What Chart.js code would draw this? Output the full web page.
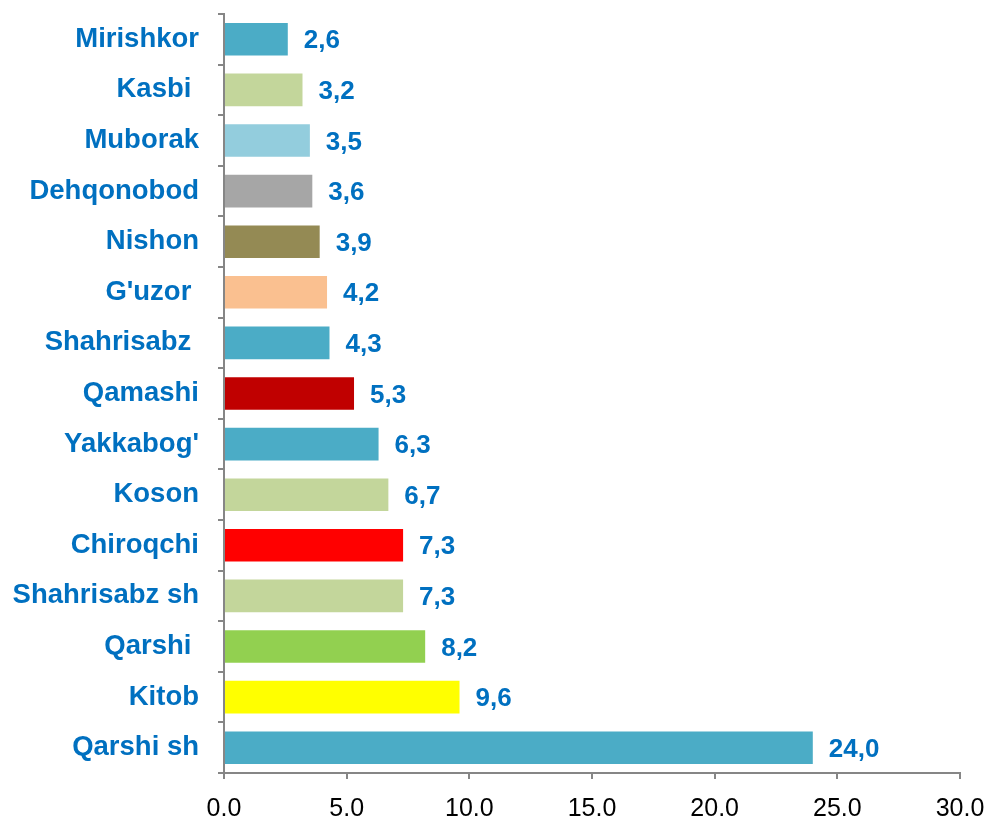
<!DOCTYPE html>
<html>
<head>
<meta charset="utf-8">
<script src="https://cdn.jsdelivr.net/npm/chart.js@4/dist/chart.umd.min.js"></script>
<style>
  body { margin: 0; background: #fff; }
  canvas { display: block; }
</style>
</head>
<body>
<canvas id="myChart" width="994" height="816"></canvas>
<script>
const categories = ['Mirishkor', 'Kasbi ', 'Muborak', 'Dehqonobod', 'Nishon', "G'uzor ", 'Shahrisabz ',
  'Qamashi', "Yakkabog'", 'Koson', 'Chiroqchi', 'Shahrisabz sh', 'Qarshi ', 'Kitob', 'Qarshi sh'];
const values = [2.6, 3.2, 3.5, 3.6, 3.9, 4.2, 4.3, 5.3, 6.3, 6.7, 7.3, 7.3, 8.2, 9.6, 24.0];
const barColors = ['#4BACC6', '#C3D69B', '#93CDDD', '#A6A6A6', '#948A54', '#FAC090', '#4BACC6',
  '#C00000', '#4BACC6', '#C3D69B', '#FF0000', '#C3D69B', '#92D050', '#FFFF00', '#4BACC6'];
const xTicks = [0, 5, 10, 15, 20, 25, 30];

// draws the value next to each bar, with a decimal comma
const valueLabels = {
  id: 'valueLabels',
  afterDatasetsDraw(chart) {
    const ctx = chart.ctx;
    const meta = chart.getDatasetMeta(0);
    ctx.save();
    ctx.font = 'bold 26px "Liberation Sans", Arial, sans-serif';
    ctx.fillStyle = '#0070C0';
    ctx.textAlign = 'left';
    ctx.textBaseline = 'middle';
    meta.data.forEach((bar, i) => {
      ctx.fillText(values[i].toFixed(1).replace('.', ','), bar.x + 16, bar.y + 2);
    });
    ctx.restore();
  }
};

const chart = new Chart(document.getElementById('myChart'), {
  type: 'bar',
  data: {
    labels: categories,
    datasets: [{
      data: values,
      backgroundColor: barColors,
      borderWidth: 0,
      categoryPercentage: 1,
      barPercentage: 0.645
    }]
  },
  options: {
    indexAxis: 'y',
    responsive: false,
    animation: false,
    layout: { padding: { top: 14, right: 34, left: 0, bottom: 0 } },
    plugins: { legend: { display: false }, tooltip: { enabled: false } },
    scales: {
      x: {
        min: 0,
        max: 30,
        afterBuildTicks: axis => { axis.ticks = xTicks.map(v => ({ value: v })); },
        afterFit: axis => {
          axis.height = 43;
          axis.paddingLeft = 0;
          axis.paddingRight = 0;
        },
        border: { color: '#868686', width: 2 },
        grid: { drawOnChartArea: false, drawTicks: true, tickLength: 6, color: '#868686', lineWidth: 2 },
        ticks: {
          padding: 15,
          color: '#000',
          font: { family: '"Liberation Sans", Arial, sans-serif', size: 25 },
          callback: v => Number(v).toFixed(1)
        }
      },
      y: {
        afterFit: axis => {
          axis.width = 224;
          axis.paddingTop = 0;
          axis.paddingBottom = 0;
        },
        border: { color: '#868686', width: 2 },
        grid: { drawOnChartArea: false, drawTicks: true, tickLength: 6, color: '#868686', lineWidth: 2 },
        ticks: {
          padding: 19,
          color: '#0070C0',
          font: { family: '"Liberation Sans", Arial, sans-serif', size: 27.5, weight: 'bold' }
        }
      }
    }
  },
  plugins: [valueLabels]
});
</script>
</body>
</html>
